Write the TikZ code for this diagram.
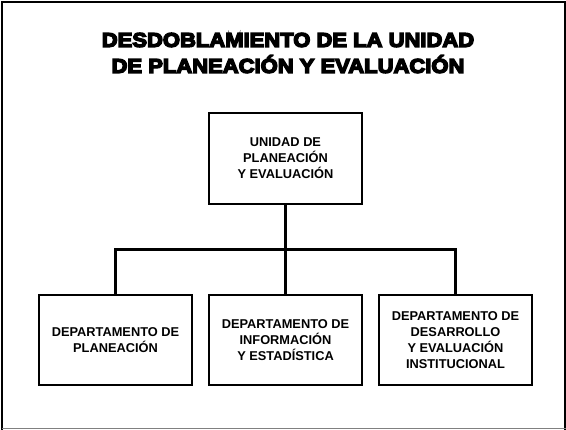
\documentclass[tikz,border=0pt]{standalone}
\usepackage{fontspec}
\setmainfont{Liberation Sans}
\newfontfamily\titlefont[BoldFeatures={FakeBold=7},FakeStretch=1.1]{Liberation Sans}
\usetikzlibrary{calc}

\begin{document}
\begin{tikzpicture}[x=1pt,y=-1pt,
  caja/.style={draw,line width=2.6pt,minimum width=153pt,minimum height=91pt,
    inner sep=2pt,align=center,font=\fontsize{12.8}{16}\selectfont\bfseries},
  conn/.style={line width=2.2pt}]
\useasboundingbox (0,0) rectangle (566,430);
% marco
\draw[line width=2.5pt] (2,430) -- (2,2) -- (565,2) -- (565,430);
\draw[gray,line width=1.5pt] (2,428.5) -- (566,428.5);
% titulo
\node[inner sep=0pt,align=center,font=\titlefont\bfseries\fontsize{20}{26}\selectfont]
  (titulo) at (288,53) {DESDOBLAMIENTO DE LA UNIDAD\\DE PLANEACIÓN Y EVALUACIÓN};
% cajas
\node[caja] (unidad) at (285.5,158.5) {UNIDAD DE\\PLANEACIÓN\\Y EVALUACIÓN};
\node[caja,minimum height=90pt] (planea) at (115.5,340) {DEPARTAMENTO DE\\PLANEACIÓN};
\node[caja,minimum height=90pt] (info) at (285.5,340) {DEPARTAMENTO DE\\INFORMACIÓN\\Y ESTADÍSTICA};
\node[caja,minimum height=90pt] (desarrollo) at (455.5,340) {DEPARTAMENTO DE\\DESARROLLO\\Y EVALUACIÓN\\INSTITUCIONAL};
% lineas
\draw[conn] (unidad.south) -- ($(unidad.south)!0.5!(info.north)$) coordinate (mid);
\draw[conn] (mid) -| (planea.north);
\draw[conn] (mid) -| (desarrollo.north);
\draw[conn] (mid) -- (info.north);
\end{tikzpicture}
\end{document}
